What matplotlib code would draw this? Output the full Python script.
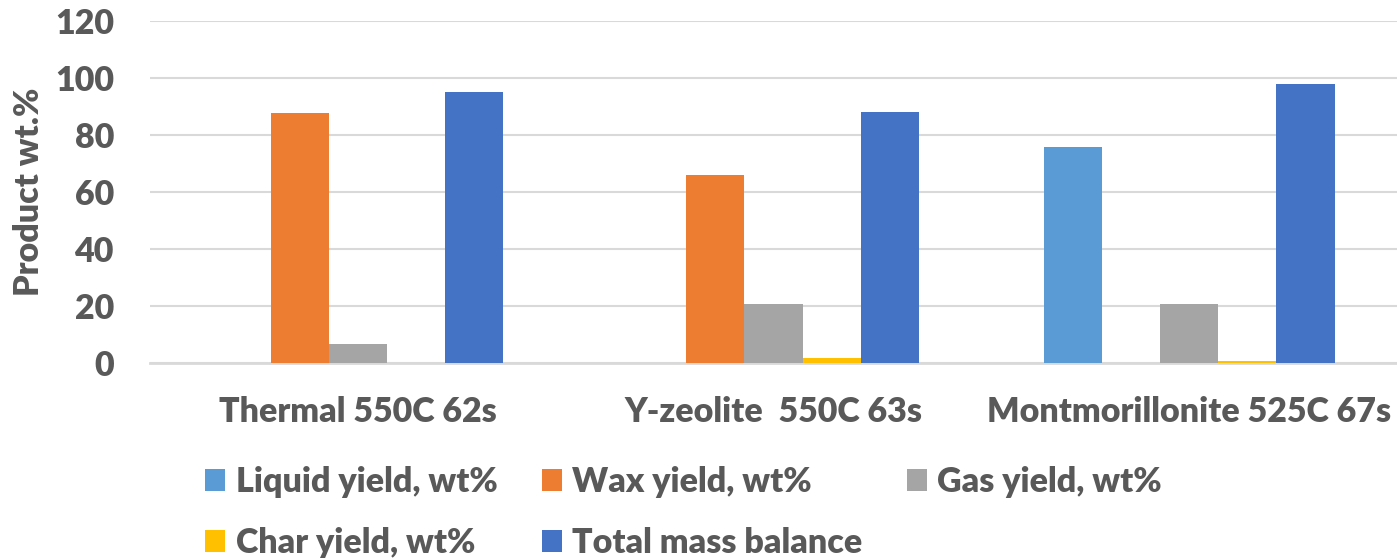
import matplotlib.pyplot as plt
import numpy as np

# Product distribution per run
runs = ['Thermal 550C 62s', 'Y-zeolite  550C 63s', 'Montmorillonite 525C 67s']
liquid = [0, 0, 75.8]
wax = [87.7, 66, 0]
gas = [6.5, 20.7, 20.8]
char = [0, 1.6, 0.7]
total = [95.1, 88, 97.9]

series = ['Liquid yield, wt%', 'Wax yield, wt%', 'Gas yield, wt%',
          'Char yield, wt%', 'Total mass balance']
values = [liquid, wax, gas, char, total]
colors = ['#5B9BD5', '#ED7D31', '#A5A5A5', '#FFC000', '#4472C4']

txt = '#595959'
fs = 24.5
plt.rcParams['font.family'] = ['Lato', 'DejaVu Sans']
plt.rcParams['font.weight'] = 'heavy'

fig = plt.figure(figsize=(13.97, 5.58), dpi=100)
ax = fig.add_axes([150 / 1397, 1 - 363 / 558, 1 - 150 / 1397, (363 - 21) / 558])

x = np.arange(len(runs))
w = 0.14
handles = []
for i, (name, vals, c) in enumerate(zip(series, values, colors)):
    b = ax.bar(x + (i - 2) * w, vals, w, color=c, label=name, linewidth=0, zorder=3)
    handles.append(b)

ax.set_ylim(0, 120)
ax.set_yticks(range(0, 121, 20))
ax.set_xlim(-0.5, 2.5)
ax.set_xticks(x)
ax.set_xticklabels(runs)
ax.grid(axis='y', color='#D9D9D9', linewidth=1.5, zorder=0)
for s in ['top', 'right', 'left']:
    ax.spines[s].set_visible(False)
ax.spines['bottom'].set_color('#D9D9D9')
ax.spines['bottom'].set_linewidth(2)
ax.tick_params(axis='y', length=0, pad=26, labelsize=fs, labelcolor=txt)
ax.tick_params(axis='x', length=0, pad=24, labelsize=fs, labelcolor=txt)
ax.set_ylabel('Product wt.%', fontsize=fs, color=txt, fontweight='heavy')
ax.yaxis.set_label_coords(-(150 - 45) / 1247, 0.5)

# legend in column-major order so rows read left to right
order = [0, 3, 1, 4, 2]
fig.legend([handles[k] for k in order], [series[k] for k in order],
           loc='upper left', bbox_to_anchor=(205 / 1397, 1 - 466 / 558),
           ncol=3, frameon=False, fontsize=fs, labelcolor=txt,
           handlelength=0.6, handleheight=0.6, handletextpad=0.3,
           labelspacing=0.85, columnspacing=1.3, borderpad=0, borderaxespad=0)

fig.savefig('out.png', dpi=100)
